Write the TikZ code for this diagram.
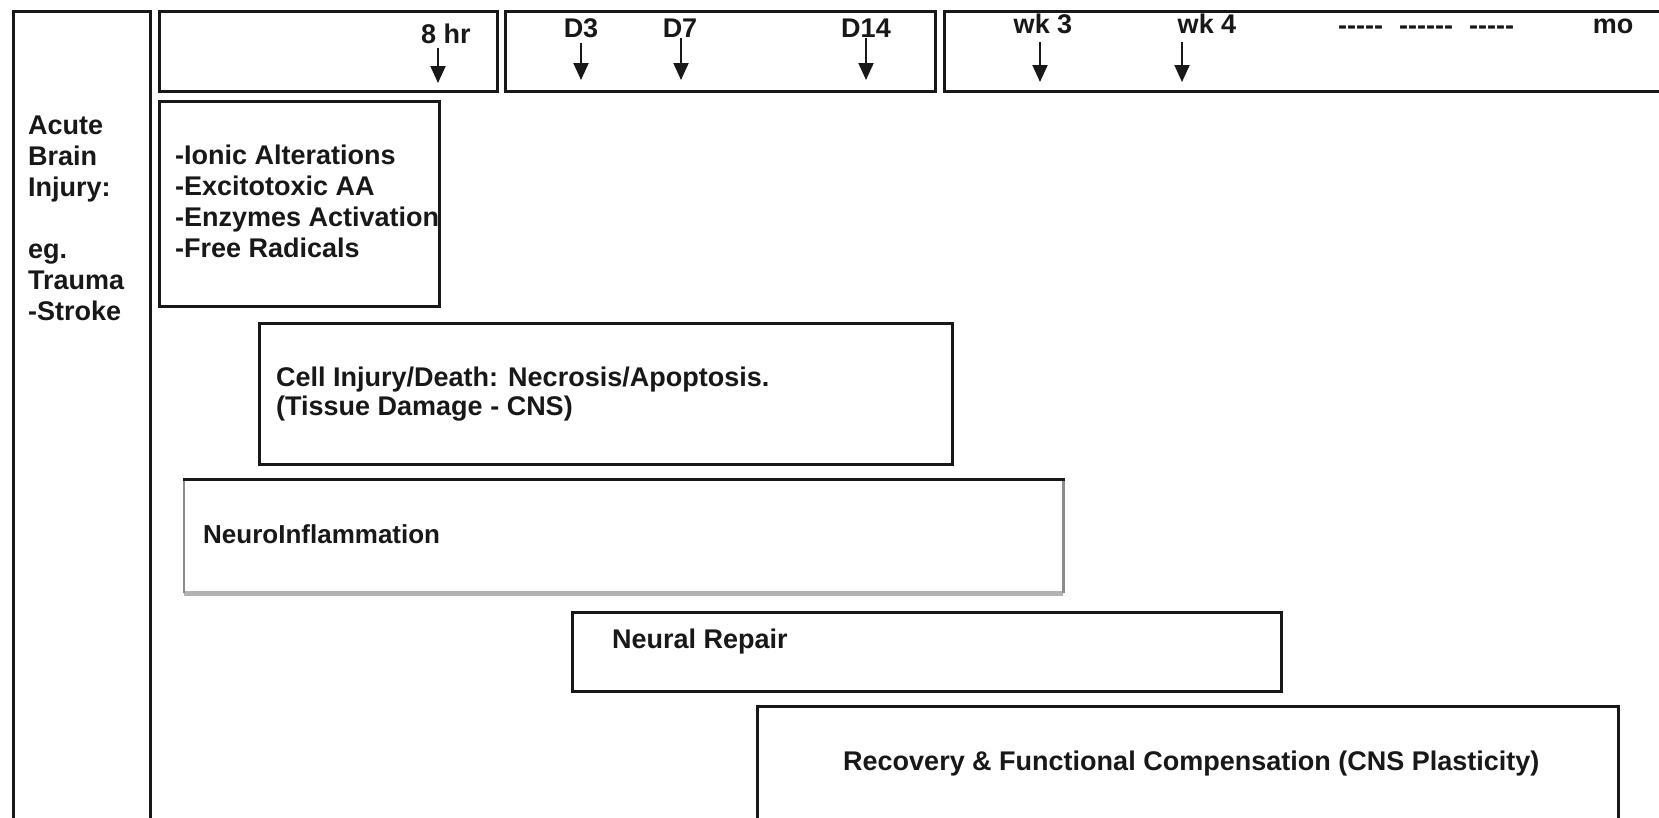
\documentclass[tikz,border=0pt]{standalone}
\usepackage{fontspec}
\setmainfont{Liberation Sans}
\usetikzlibrary{arrows.meta}
\definecolor{ink}{RGB}{24,24,24}
\definecolor{edgegray}{RGB}{140,140,140}
\definecolor{floorgray}{RGB}{178,178,178}
% a hyphen that never joins its neighbour into a dash ligature
\newcommand\hy{-\kern0pt}

\begin{document}
\begin{tikzpicture}[x=1pt,y=-1pt,
  frame/.style={draw=ink, line width=2.6pt, rectangle, inner sep=0pt, anchor=north west},
  lbl/.style={inner sep=0pt, text=ink, font=\fontsize{27}{31}\selectfont\bfseries},
  tick/.style={draw=ink, line width=2pt, -{Triangle[width=15pt,length=17pt]}},
]
\useasboundingbox (0,0) rectangle (1659,817);
\clip (0,0) rectangle (1659,817);
\fill[white] (0,0) rectangle (1659,817);

% ---- frames ----
\node[frame, minimum width=137pt, minimum height=820pt] (side)   at (12,10)   {};
\node[frame, minimum width=338pt, minimum height=80pt]  (span8)  at (158,10)  {};
\node[frame, minimum width=430pt, minimum height=80pt]  (spanD)  at (504,10)  {};
\node[frame, minimum width=760pt, minimum height=80pt]  (spanW)  at (943,10)  {};
\node[frame, minimum width=280pt, minimum height=205pt] (acute)  at (158,100) {};
\node[frame, minimum width=693pt, minimum height=141pt] (cell)   at (258,322) {};
\node[inner sep=0pt, anchor=north west, minimum width=879pt, minimum height=114pt] (inflam) at (184,479) {};
\node[frame, minimum width=709pt, minimum height=79pt]  (repair) at (571,611) {};
\node[frame, minimum width=861pt, minimum height=130pt] (recov)  at (756,705) {};

% shaded outline of the inflammation phase
\draw[floorgray, line width=5pt] (inflam.south west) -- (inflam.south east);
\draw[edgegray, line width=3pt] (inflam.north east) -- (inflam.south east);
\draw[edgegray, line width=2.6pt] (inflam.south west) -- (inflam.north west);
\draw[ink, line width=3pt] ([xshift=-1.3pt]inflam.north west) -- ([xshift=1.5pt]inflam.north east);

% ---- time marks ----
\node[lbl, anchor=base] (h8)  at (446,43) {8 hr};
\node[lbl, anchor=base] (d3)  at (581,37) {D3};
\node[lbl, anchor=base] (d7)  at (680,37) {D7};
\node[lbl, anchor=base] (d14) at (866,37) {D14};
\node[lbl, anchor=base] (w3)  at (1043,33) {wk 3};
\node[lbl, anchor=base] (w4)  at (1207,33) {wk 4};
\node[lbl, anchor=base west] (later) at (1338,34)
  {\hy\hy\hy\hy\hy\hspace{16pt}\hy\hy\hy\hy\hy\hy\hspace{16pt}\hy\hy\hy\hy\hy};
\node[lbl, anchor=base] (mo)  at (1613,33) {mo};

\coordinate (a8)  at (438,48);  \coordinate (b8)  at (438,83);
\coordinate (a3)  at (581,43);  \coordinate (b3)  at (581,80);
\coordinate (a7)  at (681,38);  \coordinate (b7)  at (681,80);
\coordinate (a14) at (866,38);  \coordinate (b14) at (866,80);
\coordinate (aw3) at (1040,42); \coordinate (bw3) at (1040,82);
\coordinate (aw4) at (1182,42); \coordinate (bw4) at (1182,82);
\draw[tick] (a8)  -- (b8);
\draw[tick] (a3)  -- (b3);
\draw[tick] (a7)  -- (b7);
\draw[tick] (a14) -- (b14);
\draw[tick] (aw3) -- (bw3);
\draw[tick] (aw4) -- (bw4);

% ---- texts ----
\node[lbl, anchor=north west, align=left] (sidetxt) at (28,116)
  {Acute\\Brain\\Injury:\\[31pt]eg.\\Trauma\\-Stroke};

\begin{scope}
  \clip (acute.north west) rectangle (acute.south east);
  \node[lbl, anchor=north west, align=left] (acutetxt) at (175,145)
    {-Ionic Alterations\\-Excitotoxic AA\\-Enzymes Activation\\-Free Radicals};
\end{scope}

\node[lbl, anchor=north west, align=left, font=\fontsize{27}{29}\selectfont\bfseries] (celltxt) at (276,367)
  {Cell Injury/Death: Necrosis/Apoptosis.\\(Tissue Damage - CNS)};
\node[lbl, anchor=base west, font=\fontsize{26}{30}\selectfont\bfseries] (inflamtxt) at (203,543) {NeuroInflammation};
\node[lbl, anchor=base west] (repairtxt) at (612,648) {Neural Repair};
\node[lbl, anchor=base west] (recovtxt) at (843,770) {Recovery \& Functional Compensation (CNS Plasticity)};
\end{tikzpicture}
\end{document}
